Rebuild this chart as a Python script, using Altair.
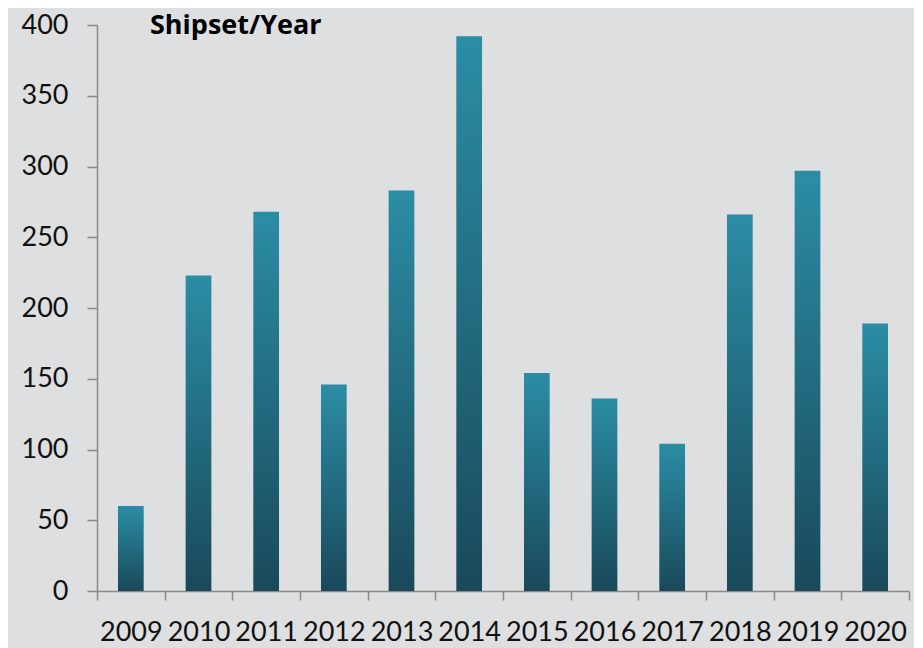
import altair as alt
import pandas as pd

years = ["2009", "2010", "2011", "2012", "2013", "2014",
         "2015", "2016", "2017", "2018", "2019", "2020"]
shipsets = [60, 223, 268, 146, 283, 392, 154, 136, 104, 266, 297, 189]
y_ticks = [0, 50, 100, 150, 200, 250, 300, 350, 400]
title_text = "Shipset/Year"

df = pd.DataFrame({"year": years, "value": shipsets})

FONT = "Lato"

gradient = alt.Gradient(
    gradient="linear",
    stops=[alt.GradientStop(color="#2b8da5", offset=0),
           alt.GradientStop(color="#19495a", offset=1)],
    x1=0, x2=0, y1=0, y2=1,
)

bars = alt.Chart(df).mark_bar(
    color=gradient,
    width=alt.RelativeBandSize(0.38),
).encode(
    x=alt.X("year:O", sort=years, title=None,
            scale=alt.Scale(paddingInner=0, paddingOuter=0),
            axis=alt.Axis(labelAngle=0, tickBand="extent", labelFont=FONT,
                          labelFontSize=27, labelColor="#111111",
                          labelPadding=19, tickSize=9, domainColor="#8a8a8a",
                          tickColor="#8a8a8a", domainWidth=1.5, tickWidth=1.5,
                          grid=False)),
    y=alt.Y("value:Q", title=None,
            scale=alt.Scale(domain=[0, 400], nice=False),
            axis=alt.Axis(values=y_ticks, labelFont=FONT, labelFontSize=27,
                          labelColor="#111111", labelPadding=19, tickSize=10,
                          domainColor="#8a8a8a", tickColor="#8a8a8a",
                          domainWidth=1.5, tickWidth=1.5, grid=False)),
)

title = alt.Chart(pd.DataFrame({"t": [title_text]})).mark_text(
    font="Open Sans", fontSize=27, fontWeight="bold", color="#000000",
    align="left", baseline="alphabetic",
).encode(
    text="t:N",
    x=alt.value(53),
    y=alt.value(9),
)

chart = alt.layer(bars, title).properties(
    width=812, height=566,
    autosize=alt.AutoSizeParams(type="none"),
    padding={"left": 89, "top": 17, "right": 5, "bottom": 57},
    background="#dddfe0",
).configure_view(stroke=None)

chart.save("out.html", embed_options={"renderer": "svg", "actions": False})
